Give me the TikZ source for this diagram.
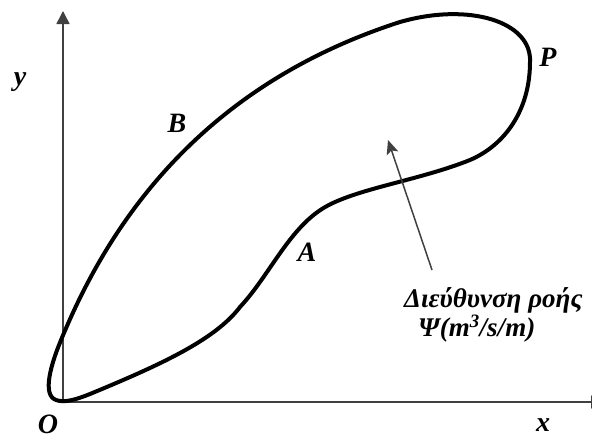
\documentclass[tikz,border=0pt]{standalone}
\usepackage{fontspec}
\setmainfont{Liberation Serif}
\usetikzlibrary{arrows.meta}
\begin{document}
\begin{tikzpicture}[x=1pt,y=-1pt,
  axis/.style={draw=black!75,line width=1.5pt},
  loopline/.style={draw=black,line width=4pt,line join=round},
  lbl/.style={font=\fontsize{28}{28}\selectfont\bfseries\itshape,inner sep=0pt},
  greek/.style={font=\fontsize{27}{26}\selectfont\bfseries\itshape,inner sep=0pt,anchor=west,align=left}]
\useasboundingbox (0,0) rectangle (592,439);
\fill[white] (0,0) rectangle (592,439);
\coordinate (orig) at (63,402);
\coordinate (ytop) at (63,11);
\coordinate (xend) at (604,402);
\draw[axis,-{Triangle[length=13pt,width=13pt]}] (orig) -- (ytop);
\draw[axis,-{Triangle[length=13pt,width=13pt]}] (orig) -- (xend);
\draw[loopline] (64,333) .. controls (120,200) and (220,80) .. (400,22)
  .. controls (470,2) and (532,22) .. (530,62)
  .. controls (530,110) and (505,145) .. (470,160)
  .. controls (420,180) and (360,188) .. (327,206)
  .. controls (290,226) and (270,275) .. (240,307)
  .. controls (215,340) and (160,365) .. (90,394)
  .. controls (75,400) and (64,403) .. (56,400)
  .. controls (42,395) and (50,365) .. (64,333) -- cycle;
\coordinate (ftail) at (432,270);
\coordinate (fhead) at (388,140);
\draw[axis,-{Stealth[length=14pt,width=12pt,inset=3pt]}] (ftail) -- (fhead);
\node[lbl] (ly) at (20,82) {y};
\node[lbl] (lO) at (48,424) {O};
\node[lbl] (lx) at (543,425) {x};
\node[lbl] (lB) at (177,123) {B};
\node[lbl] (lP) at (548,57) {P};
\node[lbl] (lA) at (307,252) {A};
\node[greek] (flow) at (404,315) {Διεύθυνση ροής\\\hspace*{14pt}Ψ(m\textsuperscript{3}/s/m)};
\end{tikzpicture}
\end{document}
